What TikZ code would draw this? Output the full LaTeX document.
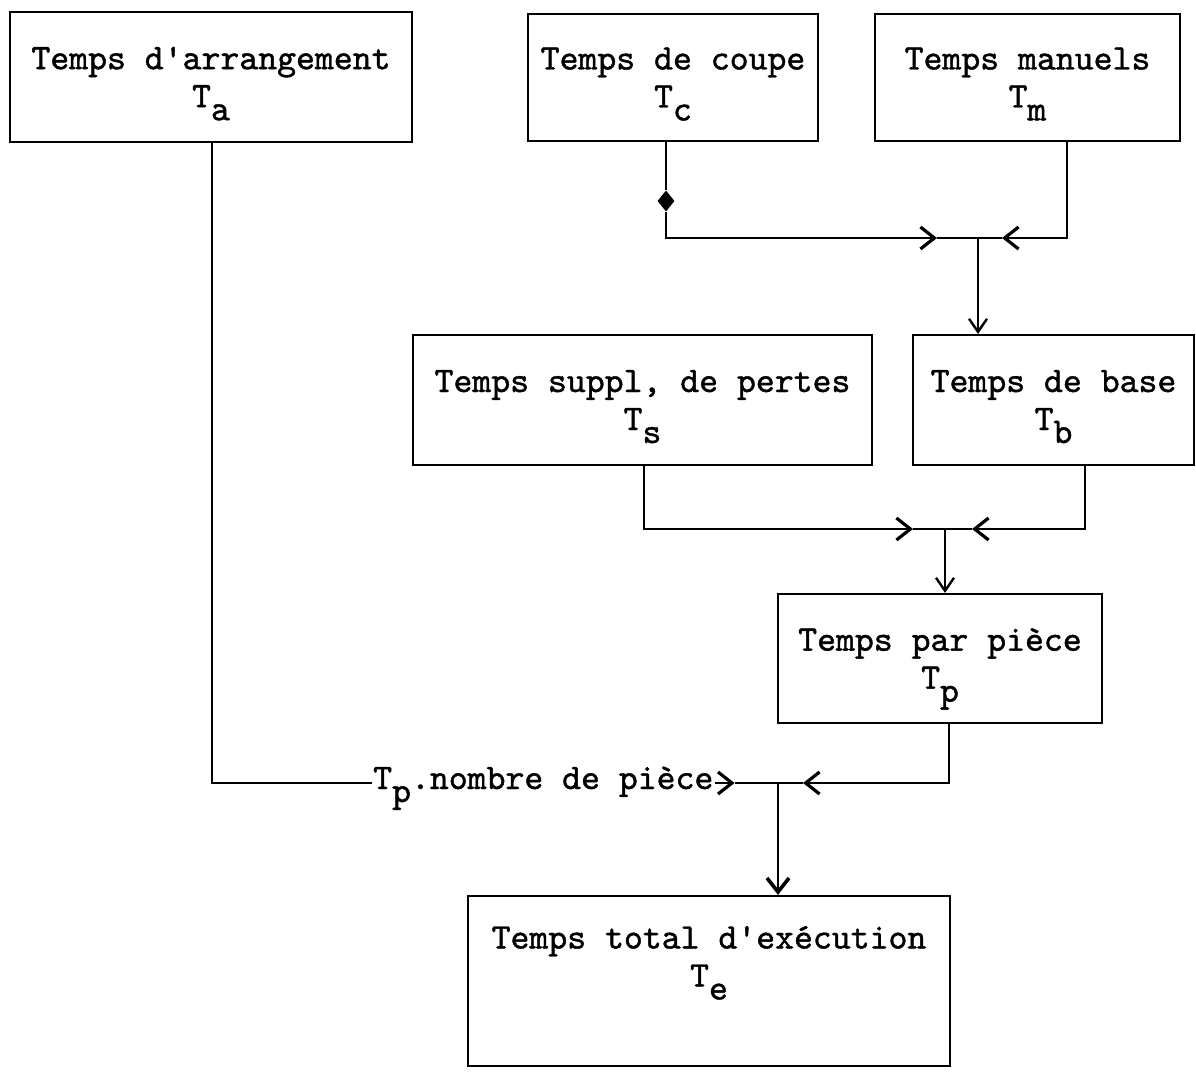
\documentclass[tikz,border=0pt]{standalone}
\usepackage{fontspec}
\newfontfamily\tw{lmmono10-regular.otf}[FakeBold=1.2]
\usetikzlibrary{arrows.meta,shapes.geometric}
\newcommand\lowr[1]{\smash{\raisebox{-0.36em}{#1}}}
\begin{document}
\begin{tikzpicture}[x=1pt,y=-1pt,
  box/.style={draw, line width=2.2pt, inner sep=0pt, align=center,
    font=\tw\fontsize{36}{38}\selectfont},
  lbl/.style={inner sep=1pt, font=\tw\fontsize{36}{38}\selectfont},
  ln/.style={line width=2pt},
  hd/.tip={Straight Barb[length=14pt,width=22pt,line width=3.2pt]},
  hdv/.tip={Straight Barb[length=13pt,width=18pt,line width=2.4pt]},
  hdb/.tip={Straight Barb[length=14pt,width=22pt,line width=3.6pt]}
]
\useasboundingbox (0,0) rectangle (1196,1073);

% boxes
\node[box, minimum width=402pt, minimum height=130pt] (ta) at (211,77)
  {Temps d'arrangement\\T\lowr{a}};
\node[box, minimum width=290pt, minimum height=127pt] (tc) at (673,77.5)
  {Temps de coupe\\T\lowr{c}};
\node[box, minimum width=305pt, minimum height=127pt] (tm) at (1027.5,77.5)
  {Temps manuels\\T\lowr{m}};
\node[box, minimum width=459pt, minimum height=130pt] (ts) at (642.5,400)
  {Temps suppl, de pertes\\T\lowr{s}};
\node[box, minimum width=281pt, minimum height=130pt] (tb) at (1053.5,400)
  {Temps de base\\T\lowr{b}};
\node[box, minimum width=324pt, minimum height=129pt] (tp) at (940,658.5)
  {Temps par pièce\\T\lowr{p}};
\node[box, minimum width=482pt, minimum height=170pt] (te) at (709,981)
  {Temps total d'exécution\\T\lowr{e}\\[0pt]\strut};

% junction points
\coordinate (j1) at (978,238);
\coordinate (j2) at (945,529);
\coordinate (j3) at (778,783);

% Tc + Tm -> Tb
\node[diamond, fill=black, inner sep=0pt, minimum width=17pt, minimum height=21pt] (dia) at (666,201) {};
\coordinate (cc) at (666,238);
\coordinate (cm) at (1067,238);
\coordinate (a1r) at (937,238);
\coordinate (a1l) at (1002,238);
\draw[ln] (tc.south -| cc) -- (dia.north);
\draw[ln, -{hd}] (dia.south) -- (cc) -- (a1r);
\draw[ln] (a1r) -- (j1);
\draw[ln, -{hd}] (tm.south -| cm) -- (cm) -- (a1l);
\draw[ln] (a1l) -- (j1);
\draw[ln, -{hdv}] (j1) -- (tb.north -| j1);

% Ts + Tb -> Tp
\coordinate (cs) at (644,529);
\coordinate (cb) at (1085,529);
\coordinate (a2r) at (913,529);
\coordinate (a2l) at (972,529);
\draw[ln, -{hd}] (ts.south -| cs) -- (cs) -- (a2r);
\draw[ln] (a2r) -- (j2);
\draw[ln, -{hd}] (tb.south -| cb) -- (cb) -- (a2l);
\draw[ln] (a2l) -- (j2);
\draw[ln, -{hdv}] (j2) -- (tp.north -| j2);

% Ta + Tp -> Te
\coordinate (ca) at (212,783);
\coordinate (cp) at (949,783);
\coordinate (a3l) at (803,783);
\node[lbl, anchor=base west] (nb) at (372,789) {T\lowr{p}.nombre de pièce};
\draw[ln] (ta.south -| ca) -- (ca) -- (nb.west |- ca);
\draw[ln, -{hd}] (nb.east |- ca) -- ++(20,0) coordinate (a3r);
\draw[ln] (a3r) -- (j3);
\draw[ln, -{hd}] (tp.south -| cp) -- (cp) -- (a3l);
\draw[ln] (a3l) -- (j3);
\draw[line width=2.8pt, -{hdb}] (j3) -- (te.north -| j3);
\end{tikzpicture}
\end{document}
